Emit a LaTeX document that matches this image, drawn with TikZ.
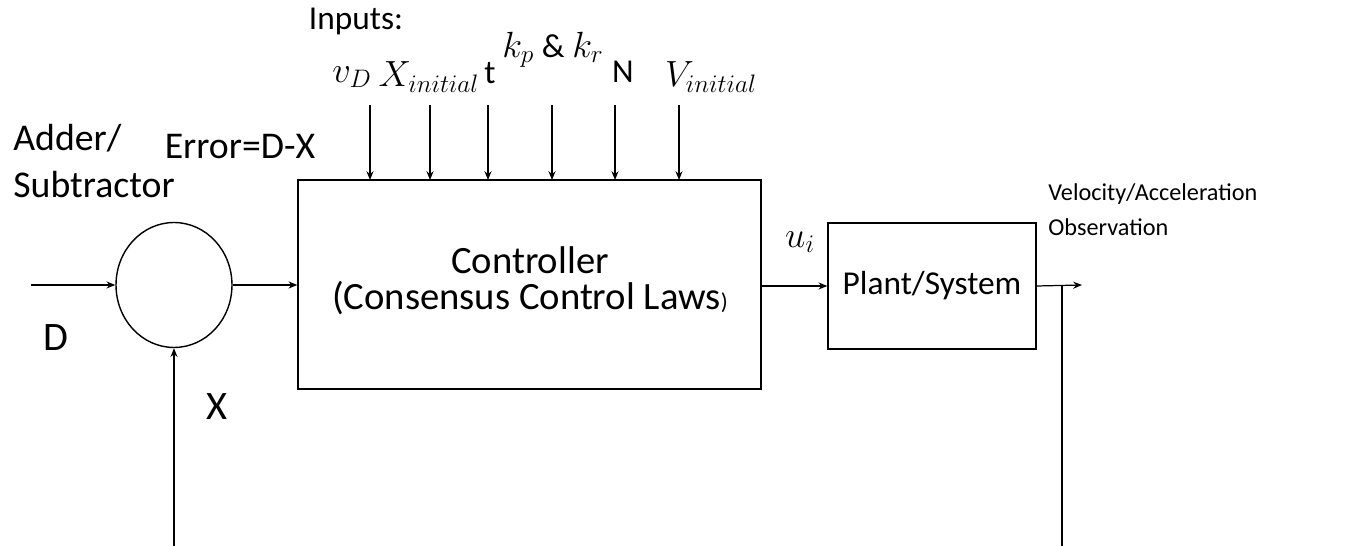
\documentclass[tikz,border=0pt]{standalone}
\usepackage{fontspec}
\setmainfont{Carlito}
\usepackage{amsmath}
\usetikzlibrary{
  arrows.meta,
  positioning,
  shapes.geometric,
}
\tikzset{
  blockbox/.style={
    rectangle, draw, line width=0.8pt, inner sep=0pt, align=center
  },
  sumnode/.style={
    ellipse, draw, line width=0.8pt, inner sep=0pt,
    minimum width=2.32cm, minimum height=2.5cm
  },
  sigarrow/.style={->, >={Stealth[length=5pt,width=4pt]}, line width=0.7pt},
  sigline/.style={line width=0.7pt},
  bigtext/.style={font=\fontsize{23}{26}\selectfont, inner sep=0pt},
  midtext/.style={font=\fontsize{21.5}{27}\selectfont, inner sep=0pt},
  smalltext/.style={font=\fontsize{19}{22}\selectfont, inner sep=0pt},
  mathtext/.style={font=\fontsize{19.5}{22}\selectfont, inner sep=0pt},
}

\begin{document}
\begin{tikzpicture}[x=0.02cm, y=-0.02cm]

  \useasboundingbox (0,0) rectangle (1365,546);

  % ── Blocks ──
  \node[sumnode] (adder) at (174,285) {};

  \node[blockbox, minimum width=9.26cm, minimum height=4.18cm] (ctrl) at (529.5,284.5) {};
  \node[font=\fontsize{22}{26}\selectfont] (ctrltop) at (530,260) {Controller};
  \node[font=\fontsize{22}{26}\selectfont] (ctrlbot) at (530,298)
    {(Consensus Control Laws{\fontsize{13}{14}\selectfont)}};

  \node[blockbox, minimum width=4.16cm, minimum height=2.52cm,
        font=\fontsize{19}{24}\selectfont] (plant) at (932,286) {Plant/System};

  % ── Free ends ──
  \coordinate (dstart) at (31,285);
  \coordinate (xstart) at (174,546);
  \coordinate (tap)    at (1062,285);
  \coordinate (outend) at (1082,285);
  \coordinate (fbend)  at (1062,546);

  % ── Signals ──
  \draw[sigarrow] (dstart) -- (adder.west);
  \draw[sigarrow] (xstart) -- (adder.south);
  \draw[sigarrow] (adder.east) -- (adder.east -| ctrl.west);
  \draw[sigarrow] (ctrl.east |- plant.west) -- (plant.west);
  \draw[sigarrow] (plant.east) -- (outend);
  \draw[sigline] (tap) -- (fbend);

  % ── Controller inputs ──
  \foreach \i/\xx in {1/370, 2/430, 3/488, 4/552, 5/615, 6/679} {
    \coordinate (in\i) at (\xx,105);
    \draw[sigarrow] (in\i) -- (\xx,180);
  }

  \node[smalltext] (inputs) at (356,21) {Inputs:};
  \node[mathtext] (vD) at (352,77) {$v_D$};
  \node[mathtext] (xinit) at (429,77) {$X_{initial}$};
  \node[smalltext] (tlab) at (490,73) {t};
  \node[mathtext] (kpkr) at (553,50) {$k_p$ {\fontsize{19}{22}\selectfont\&} $k_r$};
  \node[smalltext] (nlab) at (623,72) {N};
  \node[mathtext] (vinit) at (711,77) {$V_{initial}$};

  % ── Labels ──
  \node[midtext, anchor=west, align=left] (addlab) at (13,161) {Adder/\\Subtractor};
  \node[midtext] (errlab) at (240,147) {Error=D-X};
  \node[bigtext] (dlab) at (56,338) {D};
  \node[bigtext] (xlab) at (217,407) {X};
  \node[font=\fontsize{20}{22}\selectfont, inner sep=0pt] (ulab) at (800,242) {$u_i$};
  \node[font=\fontsize{13.8}{20}\selectfont, inner sep=0pt, anchor=west, align=left]
    (obslab) at (1048,210) {Velocity/Acceleration\\Observation};

\end{tikzpicture}
\end{document}
